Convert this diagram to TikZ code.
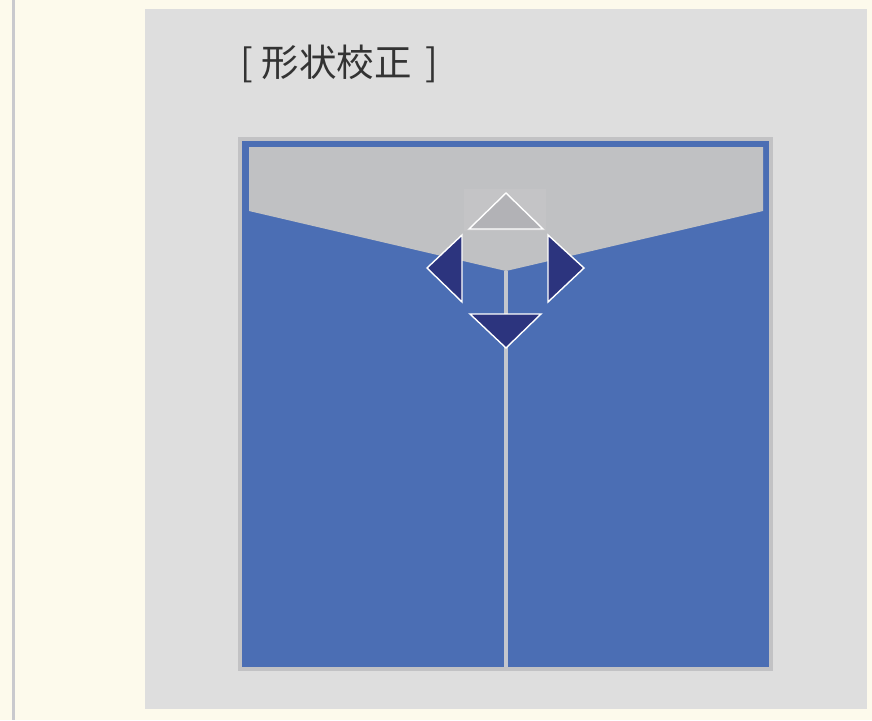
\documentclass[tikz,border=0pt]{standalone}
\usepackage{fontspec}
\newfontfamily\cjk{Noto Sans CJK JP}
\usetikzlibrary{positioning}
\definecolor{cream}{HTML}{FDFAEC}
\definecolor{sidebar}{HTML}{C9C9CD}
\definecolor{panel}{HTML}{DEDEDE}
\definecolor{framegray}{HTML}{C2C2C4}
\definecolor{screenblue}{HTML}{4B6EB4}
\definecolor{keystone}{HTML}{C0C1C3}
\definecolor{keylight}{HTML}{C4C4C6}
\definecolor{splitline}{HTML}{C4C7CE}
\definecolor{navy}{HTML}{2C347E}
\definecolor{upgray}{HTML}{B2B2B6}
\definecolor{inktext}{HTML}{333333}
\tikzset{
  titletext/.style={
    text=inktext,
    inner sep=0pt,
    font=\cjk\fontsize{37.5}{40}\selectfont
  },
  activearrow/.style={
    fill=navy,
    draw=white,
    line width=1.4pt,
    line join=miter
  },
  idlearrow/.style={
    fill=upgray,
    draw=white,
    line width=1.4pt,
    line join=miter
  }
}

\begin{document}
\begin{tikzpicture}[x=1pt,y=-1pt]
\useasboundingbox (0,0) rectangle (872,720);
\fill[cream] (0,0) rectangle (872,720);
\fill[sidebar] (12,0) rectangle (15,720);
\fill[panel] (145,9) rectangle (867,709);
\node[titletext,anchor=west] (title) at (240,64) {[\hspace{9pt}形状校正\hspace{14pt}]};
\fill[framegray] (238,137) rectangle (773,671);
\fill[screenblue] (242,141) rectangle (769,667);
\fill[keystone] (249,147) -- (763,147) -- (763,211) -- (506,271) -- (249,211) -- cycle;
\fill[keylight] (464,189) rectangle (546,231);
\fill[splitline] (504,271) rectangle (508,667);
\draw[idlearrow] (506,193) -- (543,229) -- (469,229) -- cycle;
\draw[activearrow] (427,268) -- (462,235) -- (462,302) -- cycle;
\draw[activearrow] (584,268) -- (548,235) -- (548,302) -- cycle;
\draw[activearrow] (506,348) -- (541,314) -- (470,314) -- cycle;
\end{tikzpicture}
\end{document}
